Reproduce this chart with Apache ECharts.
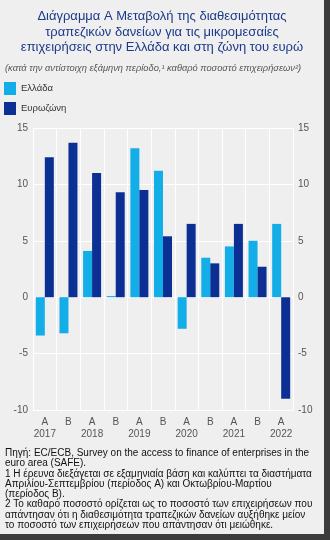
<!DOCTYPE html>
<html>
<head>
<meta charset="utf-8">
<script src="https://cdn.jsdelivr.net/npm/echarts@6/dist/echarts.min.js"></script>
<style>
html,body{margin:0;padding:0;background:#3c3c3c;}
#chart{width:324px;height:534px;background:#efefef;}
</style>
</head>
<body>
<div id="chart"></div>
<script>
const categories = ['A\n2017','B','A\n2018','B','A\n2019','B','A\n2020','B','A\n2021','B','A\n2022'];
const greece = [-3.4, -3.2, 4.1, 0.1, 13.2, 11.2, -2.8, 3.5, 4.5, 5.0, 6.5];
const eurozone = [12.4, 13.7, 11.0, 9.3, 9.5, 5.4, 6.5, 3.0, 6.5, 2.7, -9.0];
const yTicks = {min: -10, max: 15, interval: 5};
const seriesNames = ['Ελλάδα', 'Ευρωζώνη'];
const titleText = 'Διάγραμμα Α Μεταβολή της διαθεσιμότητας\nτραπεζικών δανείων για τις μικρομεσαίες\nεπιχειρήσεις στην Ελλάδα και στη ζώνη του ευρώ';
const subtitleText = '(κατά την αντίστοιχη εξάμηνη περίοδο,¹ καθαρό ποσοστό επιχειρήσεων²)';
const notesText = 'Πηγή: EC/ECB, Survey on the access to finance of enterprises in the\neuro area (SAFE).\n1 Η έρευνα διεξάγεται σε εξαμηνιαία βάση και καλύπτει τα διαστήματα\nΑπριλίου-Σεπτεμβρίου (περίοδος Α) και Οκτωβρίου-Μαρτίου\n(περίοδος Β).\n2 Το καθαρό ποσοστό ορίζεται ως το ποσοστό των επιχειρήσεων που\nαπάντησαν ότι η διαθεσιμότητα τραπεζικών δανείων αυξήθηκε μείον\nτο ποσοστό των επιχειρήσεων που απάντησαν ότι μειώθηκε.';

const chart = echarts.init(document.getElementById('chart'), null, {renderer: 'canvas'});
const fontFam = 'Liberation Sans, Arial, sans-serif';
const yAxisBase = {
  type: 'value', min: yTicks.min, max: yTicks.max, interval: yTicks.interval,
  axisLine: {show: false}, axisTick: {show: false},
  splitLine: {show: true, lineStyle: {color: '#ffffff', width: 1}},
  axisLabel: {color: '#555', fontSize: 10, fontFamily: fontFam, margin: 5}
};
chart.setOption({
  backgroundColor: '#efefef',
  animation: false,
  title: [{
    text: titleText, left: 'center', top: 4,
    textStyle: {color: '#1c3a8a', fontSize: 13, fontWeight: 'normal', fontFamily: fontFam, lineHeight: 15.5}
  }],
  legend: {
    data: seriesNames, orient: 'vertical', left: 4, top: 82, padding: 0, itemWidth: 12, itemHeight: 13, itemGap: 7,
    icon: 'rect', textStyle: {color: '#333', fontSize: 9.5, fontFamily: fontFam}
  },
  grid: {left: 33, right: 31, top: 128, bottom: 124},
  xAxis: {
    type: 'category', data: categories,
    axisLine: {show: false}, axisTick: {show: false},
    splitLine: {show: true, interval: 0, lineStyle: {color: '#ffffff', width: 1}},
    axisLabel: {interval: 0, color: '#555', fontSize: 10, fontFamily: fontFam, lineHeight: 12, margin: 6}
  },
  yAxis: [Object.assign({position: 'left'}, yAxisBase), Object.assign({position: 'right'}, yAxisBase)],
  series: [{
    name: seriesNames[0], type: 'bar', data: greece, barWidth: 9, barGap: '0%',
    itemStyle: {color: '#13aee8'}
  }, {
    name: seriesNames[1], type: 'bar', data: eurozone, barWidth: 9, barGap: '0%',
    itemStyle: {color: '#0c2f94'}
  }],
  graphic: [{
    type: 'text', x: 5, y: 65, scaleY: 0.9,
    style: {text: subtitleText, fill: '#555', font: 'italic 9.3px ' + fontFam, verticalAlign: 'top'}
  }, {
    type: 'text', x: 5, y: 448,
    style: {text: notesText, fill: '#111', font: '10px ' + fontFam, lineHeight: 10.3, verticalAlign: 'top'}
  }]
});
</script>
</body>
</html>
